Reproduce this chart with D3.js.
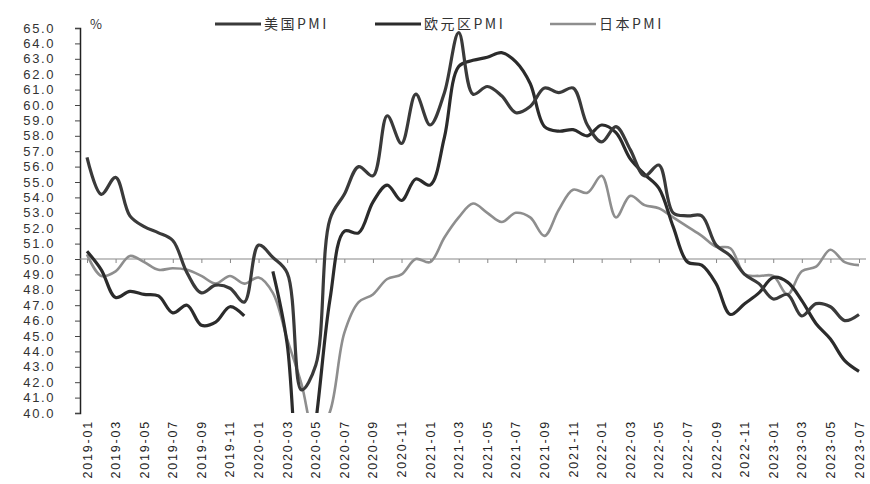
<!DOCTYPE html>
<html>
<head>
<meta charset="utf-8">
<script src="https://cdn.jsdelivr.net/npm/d3@7/dist/d3.min.js"></script>
<style>
body { margin: 0; background: #fff; }
.axis text { font-family: "Liberation Sans", sans-serif; fill: #333; }
</style>
</head>
<body>
<script>
// months 2019-01 .. 2023-07
var months = [];
for (var yr = 2019; yr <= 2023; yr++) {
	for (var m = 1; m <= 12; m++) {
		if (yr == 2023 && m > 7) break;
		months.push(yr + "-" + (m < 10 ? "0" + m : m));
	}
}
var tickMonths = months.filter(function(d, i){ return i % 2 == 0; });

var usPMI = [56.6, 54.2, 55.3, 52.8, 52.1, 51.7, 51.2, 49.1, 47.8, 48.3, 48.1, 47.2,
	50.9, 50.1, 49.1, 41.5, 43.1, 52.6, 54.2, 56.0, 55.4, 59.3, 57.5, 60.7,
	58.7, 60.8, 64.7, 60.7, 61.2, 60.6, 59.5, 59.9, 61.1, 60.8, 61.1, 58.7,
	57.6, 58.6, 57.1, 55.4, 56.1, 53.0, 52.8, 52.8, 50.9, 50.2, 49.0, 48.4,
	47.4, 47.7, 46.3, 47.1, 46.9, 46.0, 46.4];
var ezPMI = [50.5, 49.3, 47.5, 47.9, 47.7, 47.6, 46.5, 47.0, 45.7, 45.9, 46.9, 46.3,
	null, 49.2, 44.5, 33.4, 39.4, 47.4, 51.8, 51.7, 53.7, 54.8, 53.8, 55.2,
	54.8, 57.9, 62.5, 62.9, 63.1, 63.4, 62.8, 61.4, 58.6, 58.3, 58.4, 58.0,
	58.7, 58.2, 56.5, 55.5, 54.6, 52.1, 49.8, 49.6, 48.4, 46.4, 47.1, 47.8,
	48.8, 48.5, 47.3, 45.8, 44.8, 43.4, 42.7];
var jpPMI = [50.3, 48.9, 49.2, 50.2, 49.8, 49.3, 49.4, 49.3, 48.9, 48.4, 48.9, 48.4,
	48.8, 47.8, 44.8, 41.9, 38.4, 40.1, 45.2, 47.2, 47.7, 48.7, 49.0, 50.0,
	49.8, 51.4, 52.7, 53.6, 53.0, 52.4, 53.0, 52.7, 51.5, 53.2, 54.5, 54.3,
	55.4, 52.7, 54.1, 53.5, 53.3, 52.7, 52.1, 51.5, 50.8, 50.7, 49.0, 48.9,
	48.9, 47.7, 49.2, 49.5, 50.6, 49.8, 49.6];

var series = [
	{ name: "美国PMI", values: usPMI, color: "#3a3a3a", width: 3.2, lx: 215 },
	{ name: "欧元区PMI", values: ezPMI, color: "#2b2b2b", width: 3.2, lx: 375 },
	{ name: "日本PMI", values: jpPMI, color: "#8e8e8e", width: 2.6, lx: 550 }
];

var width = 870, height = 484;
var svg = d3.select("body").append("svg")
	.attr("width", width)
	.attr("height", height);

var x = d3.scalePoint().domain(months).range([87, 859]);
var y = d3.scaleLinear().domain([40, 65]).range([413, 28]);

svg.append("defs").append("clipPath").attr("id", "plot")
  .append("rect").attr("x", 80).attr("y", 0).attr("width", 790).attr("height", 413);

// y axis
var yAxis = svg.append("g")
	.attr("class", "axis")
	.attr("transform", "translate(80,0)")
	.call(d3.axisLeft(y).ticks(25).tickSize(5).tickPadding(20).tickFormat(d3.format(".1f")));
yAxis.select(".domain").attr("stroke", "#222").attr("stroke-width", 1.5);
yAxis.selectAll(".tick line").attr("stroke", "#444");
yAxis.selectAll("text").style("font-size", "13px").style("letter-spacing", "1.6px");

// x axis crossing at 50
var xAxis = svg.append("g")
	.attr("class", "axis")
	.attr("transform", "translate(0," + y(50) + ")")
	.call(d3.axisBottom(x).tickValues(tickMonths).tickSize(4).tickFormat(""));
xAxis.select(".domain").attr("d", "M80,0H866").attr("stroke", "#888").attr("stroke-width", 1.2);
xAxis.selectAll(".tick line").attr("stroke", "#888");

// x labels at the bottom
svg.append("g").selectAll("text")
	.data(tickMonths)
	.enter().append("text")
	.attr("transform", function(d) { return "translate(" + (x(d) + 4.5) + ",420) rotate(-90)"; })
	.attr("text-anchor", "end")
	.style("font-family", "Liberation Sans, sans-serif")
	.style("font-size", "12.5px")
	.style("letter-spacing", "1.8px")
	.style("fill", "#222")
	.text(function(d) { return d; });

var line = d3.line()
	.defined(function(d) { return d != null; })
	.x(function(d, i) { return x(months[i]); })
	.y(function(d) { return y(d); })
	.curve(d3.curveCatmullRom.alpha(0.5));

var plot = svg.append("g").attr("clip-path", "url(#plot)");
plot.selectAll("path.series")
	.data(series.slice().reverse())
	.enter().append("path")
	.attr("class", "series")
	.attr("fill", "none")
	.attr("stroke", function(d) { return d.color; })
	.attr("stroke-width", function(d) { return d.width; })
	.attr("stroke-linejoin", "round")
	.attr("d", function(d) { return line(d.values); });

// unit
svg.append("text")
	.attr("x", 90).attr("y", 29)
	.style("font-family", "Noto Sans CJK SC, sans-serif")
	.style("font-size", "13px")
	.style("fill", "#333")
	.text("%");

// legend
var legend = svg.append("g").selectAll("g")
	.data(series)
	.enter().append("g")
	.attr("transform", function(d) { return "translate(" + d.lx + ",24)"; });
legend.append("line")
	.attr("x1", 0).attr("x2", 46)
	.attr("stroke", function(d) { return d.color; })
	.attr("stroke-width", function(d) { return d.width; });
legend.append("text")
	.attr("x", 49).attr("dy", "0.35em")
	.style("font-family", "Noto Sans CJK SC, sans-serif")
	.style("font-size", "14px")
	.style("letter-spacing", "2.5px")
	.style("fill", "#333")
	.text(function(d) { return d.name; });
</script>
</body>
</html>
